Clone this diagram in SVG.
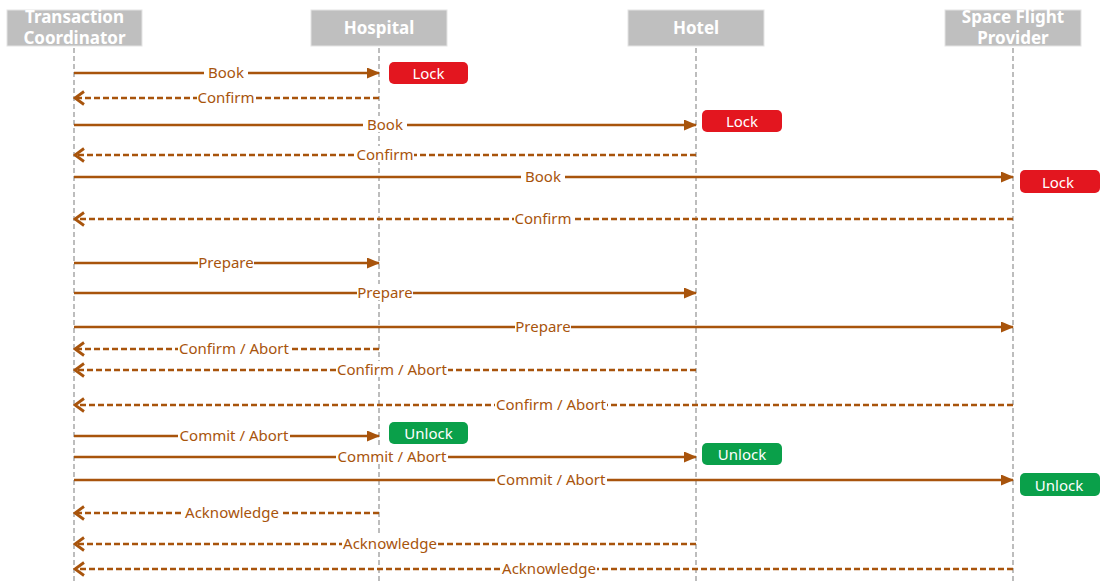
<svg xmlns="http://www.w3.org/2000/svg" width="1105" height="581" viewBox="0 0 1105 581">
  <style>
    .hdr { fill: #BFBFBF; stroke: #E4E4E4; stroke-width: 1; }
    .hdr-t { font-family: "Noto Sans", "Open Sans", sans-serif; font-weight: bold; font-size: 17px; fill: #FFFFFF; text-anchor: middle; }
    .life { stroke: #BDBDBD; stroke-width: 2; stroke-dasharray: 5 3; fill: none; }
    .msg { stroke: #A8540C; stroke-width: 2.6; fill: none; marker-end: url(#solidHead); }
    .ret { stroke: #A8540C; stroke-width: 2.6; fill: none; stroke-dasharray: 6 3; marker-end: url(#openHead); }
    .bg { fill: #FFFFFF; }
    .lbl { font-family: "Noto Sans", "Open Sans", sans-serif; font-size: 15px; fill: #A8540C; text-anchor: middle; dominant-baseline: central; }
    .lock { fill: #E3161F; }
    .unlock { fill: #0AA04A; }
    .tag-t { font-family: "Noto Sans", "Open Sans", sans-serif; font-size: 15px; fill: #FFFFFF; text-anchor: middle; dominant-baseline: central; }
  </style>
  <defs>
    <marker id="solidHead" markerWidth="13" markerHeight="11" refX="12" refY="5.5" orient="auto" markerUnits="userSpaceOnUse">
      <path d="M0,0 L13,5.5 L0,11 Z" fill="#A8540C"/>
    </marker>
    <marker id="openHead" markerWidth="13" markerHeight="16" refX="11" refY="8" orient="auto" markerUnits="userSpaceOnUse">
      <path d="M2,1.5 L11,8 L2,14.5" fill="none" stroke="#A8540C" stroke-width="2.8"/>
    </marker>
  </defs>

  <!-- participants -->
  <g id="coordinator">
    <rect class="hdr" x="7" y="10" width="135" height="36"/>
    <text class="hdr-t" x="74.5" y="23">Transaction</text>
    <text class="hdr-t" x="74.5" y="44">Coordinator</text>
    <line class="life" x1="74" y1="48" x2="74" y2="581"/>
  </g>
  <g id="hospital">
    <rect class="hdr" x="311" y="10" width="136" height="36"/>
    <text class="hdr-t" x="379" y="34">Hospital</text>
    <line class="life" x1="379" y1="48" x2="379" y2="581"/>
  </g>
  <g id="hotel">
    <rect class="hdr" x="628" y="10" width="136" height="36"/>
    <text class="hdr-t" x="696" y="34">Hotel</text>
    <line class="life" x1="696" y1="48" x2="696" y2="581"/>
  </g>
  <g id="space-flight">
    <rect class="hdr" x="945" y="10" width="136" height="36"/>
    <text class="hdr-t" x="1013" y="23">Space Flight</text>
    <text class="hdr-t" x="1013" y="44">Provider</text>
    <line class="life" x1="1013" y1="48" x2="1013" y2="581"/>
  </g>

  <!-- messages: line, white label backing, label -->
  <g id="connectors">
    <line class="msg" x1="74" y1="73" x2="379" y2="73"/>
    <rect class="bg" x="204" y="64" width="44" height="16"/>
    <text class="lbl" x="226" y="72">Book</text>
    <line class="ret" x1="379" y1="98" x2="75" y2="98"/>
    <rect class="bg" x="197" y="89" width="58" height="16"/>
    <text class="lbl" x="226" y="97">Confirm</text>

    <line class="msg" x1="74" y1="125" x2="696" y2="125"/>
    <rect class="bg" x="363" y="116" width="44" height="16"/>
    <text class="lbl" x="385" y="124">Book</text>
    <line class="ret" x1="696" y1="155" x2="75" y2="155"/>
    <rect class="bg" x="356" y="146" width="58" height="16"/>
    <text class="lbl" x="385" y="154">Confirm</text>

    <line class="msg" x1="74" y1="177" x2="1013" y2="177"/>
    <rect class="bg" x="521" y="168" width="44" height="16"/>
    <text class="lbl" x="543" y="176">Book</text>
    <line class="ret" x1="1013" y1="219" x2="75" y2="219"/>
    <rect class="bg" x="514" y="210" width="58" height="16"/>
    <text class="lbl" x="543" y="218">Confirm</text>

    <line class="msg" x1="74" y1="263" x2="379" y2="263"/>
    <rect class="bg" x="198" y="254" width="56" height="16"/>
    <text class="lbl" x="226" y="262">Prepare</text>
    <line class="msg" x1="74" y1="293" x2="696" y2="293"/>
    <rect class="bg" x="357" y="284" width="56" height="16"/>
    <text class="lbl" x="385" y="292">Prepare</text>
    <line class="msg" x1="74" y1="327" x2="1013" y2="327"/>
    <rect class="bg" x="515" y="318" width="56" height="16"/>
    <text class="lbl" x="543" y="326">Prepare</text>

    <line class="ret" x1="379" y1="349" x2="75" y2="349"/>
    <rect class="bg" x="178" y="340" width="112" height="16"/>
    <text class="lbl" x="234" y="348">Confirm / Abort</text>
    <line class="ret" x1="696" y1="370" x2="75" y2="370"/>
    <rect class="bg" x="336" y="361" width="112" height="16"/>
    <text class="lbl" x="392" y="369">Confirm / Abort</text>
    <line class="ret" x1="1013" y1="405" x2="75" y2="405"/>
    <rect class="bg" x="495" y="396" width="112" height="16"/>
    <text class="lbl" x="551" y="404">Confirm / Abort</text>

    <line class="msg" x1="74" y1="436" x2="379" y2="436"/>
    <rect class="bg" x="178" y="427" width="112" height="16"/>
    <text class="lbl" x="234" y="435">Commit / Abort</text>
    <line class="msg" x1="74" y1="457" x2="696" y2="457"/>
    <rect class="bg" x="336" y="448" width="112" height="16"/>
    <text class="lbl" x="392" y="456">Commit / Abort</text>
    <line class="msg" x1="74" y1="480" x2="1013" y2="480"/>
    <rect class="bg" x="495" y="471" width="112" height="16"/>
    <text class="lbl" x="551" y="479">Commit / Abort</text>

    <line class="ret" x1="379" y1="513" x2="75" y2="513"/>
    <rect class="bg" x="184" y="504" width="96" height="16"/>
    <text class="lbl" x="232" y="512">Acknowledge</text>
    <line class="ret" x1="696" y1="544" x2="75" y2="544"/>
    <rect class="bg" x="342" y="535" width="96" height="16"/>
    <text class="lbl" x="390" y="543">Acknowledge</text>
    <line class="ret" x1="1013" y1="569" x2="75" y2="569"/>
    <rect class="bg" x="501" y="560" width="96" height="16"/>
    <text class="lbl" x="549" y="568">Acknowledge</text>
  </g>

  <!-- lock / unlock states -->
  <g id="lock-hospital">
    <rect class="lock" x="389" y="62" width="79" height="22" rx="5"/>
    <text class="tag-t" x="428.5" y="73">Lock</text>
  </g>
  <g id="lock-hotel">
    <rect class="lock" x="702" y="110" width="80" height="22" rx="5"/>
    <text class="tag-t" x="742" y="121">Lock</text>
  </g>
  <g id="lock-space-flight">
    <rect class="lock" x="1020" y="170" width="80" height="23" rx="5"/>
    <text class="tag-t" x="1058" y="181.5">Lock</text>
  </g>
  <g id="unlock-hospital">
    <rect class="unlock" x="389" y="422" width="79" height="22" rx="5"/>
    <text class="tag-t" x="428.5" y="433">Unlock</text>
  </g>
  <g id="unlock-hotel">
    <rect class="unlock" x="702" y="443" width="80" height="22" rx="5"/>
    <text class="tag-t" x="742" y="454">Unlock</text>
  </g>
  <g id="unlock-space-flight">
    <rect class="unlock" x="1020" y="473" width="80" height="23" rx="5"/>
    <text class="tag-t" x="1059" y="484.5">Unlock</text>
  </g>
</svg>
